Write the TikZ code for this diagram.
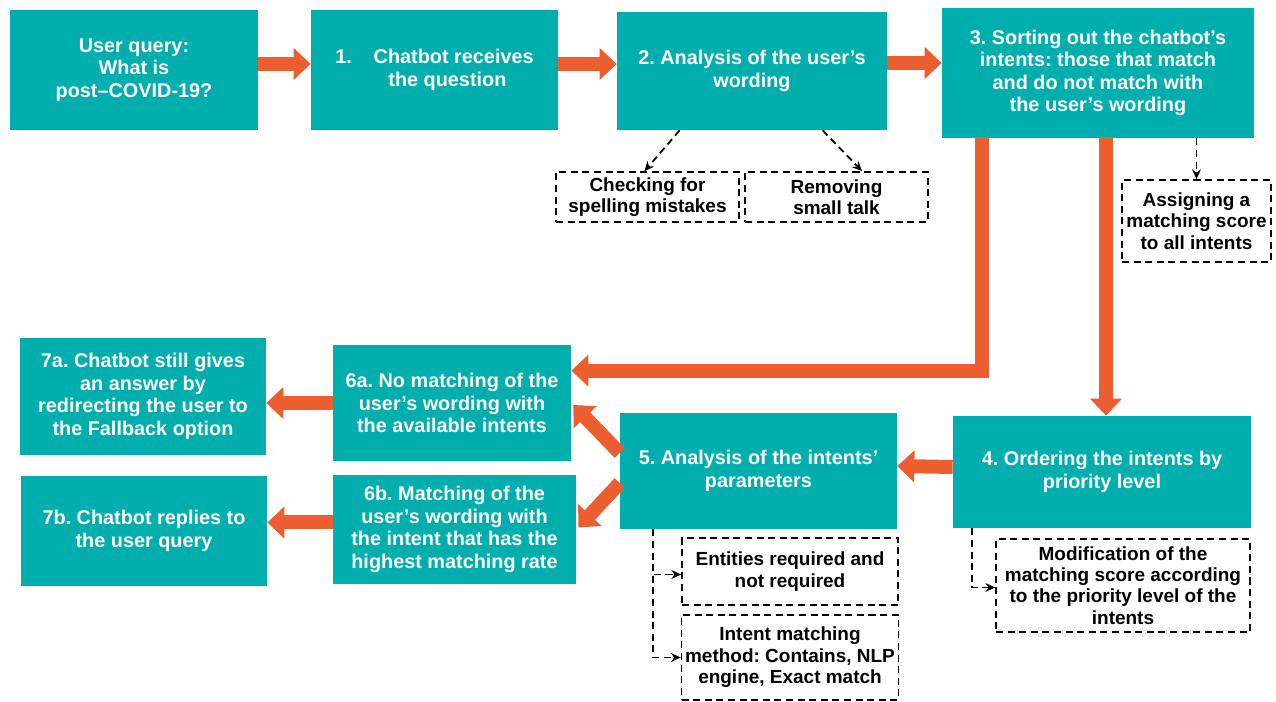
\documentclass[tikz,border=0pt]{standalone}
\usepackage{fontspec}
\setmainfont{Liberation Sans}
\usetikzlibrary{arrows.meta,calc}
\definecolor{teal1}{RGB}{0,175,173}
\definecolor{orng}{RGB}{236,93,47}
\frenchspacing
\tikzset{
  sz/.style 2 args={minimum width=#1*0.02cm, minimum height=#2*0.02cm},
  mainbox/.style={rectangle, fill=teal1, draw=none, text=white, align=center, inner sep=2pt,
    font=\fontsize{11.3}{12.8}\selectfont\bfseries\frenchspacing},
  dbox/.style={rectangle, draw=black, fill=white, line width=1pt, dash pattern=on 4pt off 2.6pt,
    text=black, align=center, inner sep=2pt, font=\fontsize{10.8}{12.2}\selectfont\bfseries\frenchspacing},
  oarrow/.style={draw=orng, line width=0.28cm, line join=miter,
    -{Triangle[length=0.34cm,width=0.62cm]}},
  darrow/.style={draw=black, line width=1pt, dash pattern=on 4pt off 2.6pt,
    -{Stealth[length=5.5pt,width=5pt]}},
}
\begin{document}
\begin{tikzpicture}[x=0.02cm,y=-0.02cm]
\useasboundingbox (0,0) rectangle (1276,702);
% main boxes
\node[mainbox,sz={248}{120}] (b0) at (134,70) {User query:\\What is\\post–COVID-19?};
\node[mainbox,sz={247}{120}] (b1) at (434.5,70) {1.\hspace{1.1em}Chatbot receives\\\hspace*{14.7pt}the question};
\node[mainbox,sz={270}{118}] (b2) at (752,71) {2. Analysis of the user’s\\wording};
\node[mainbox,sz={312}{130}] (b3) at (1098,73) {3. Sorting out the chatbot’s\\intents: those that match\\and do not match with\\the user’s wording};
\node[mainbox,sz={238}{116}] (n6a) at (452,403) {6a. No matching of the\\user’s wording with\\the available intents};
\node[mainbox,sz={246}{117}] (n7a) at (143,396.5) {7a. Chatbot still gives\\an answer by\\redirecting the user to\\the Fallback option};
\node[mainbox,sz={277}{116}] (n5) at (758.5,471) {5. Analysis of the intents’\\parameters};
\node[mainbox,sz={298}{112}] (n4) at (1102,472) {4. Ordering the intents by\\priority level};
\node[mainbox,sz={243}{109}] (n6b) at (454.5,529.5) {6b. Matching of the\\user’s wording with\\the intent that has the\\highest matching rate};
\node[mainbox,sz={246}{110}] (n7b) at (144,531) {7b. Chatbot replies to\\the user query};
% dashed boxes
\node[dbox,sz={183}{50}] (cs) at (647.5,197) {Checking for\\spelling mistakes};
\node[dbox,sz={183}{50}] (rs) at (836.5,197) {Removing\\small talk};
\node[dbox,sz={149}{82}] (as) at (1196.5,221) {Assigning a\\matching score\\to all intents};
\node[dbox,sz={216}{67}] (ent) at (790,571.5) {Entities required and\\not required};
\node[dbox,sz={216}{85}] (im) at (790,657.5) {Intent matching\\method: Contains, NLP\\engine, Exact match};
\node[dbox,sz={254}{93}] (mod) at (1123,585.5) {Modification of the\\matching score according\\to the priority level of the\\intents};
% orange arrows
\draw[oarrow] ($(b0.east)+(0,-6)$) -- ($(b1.west)+(0,-6)$);
\draw[oarrow] ($(b1.east)+(0,-6)$) -- ($(b2.west)+(0,-7)$);
\draw[oarrow] ($(b2.east)+(0,-8)$) -- ($(b3.west)+(0,-10)$);
\draw[oarrow] ($(b3.south west)+(40,-1)$) |- ($(n6a.north east)+(0,26)$);
\draw[oarrow] ($(n4.north |- b3.south)+(4,-1)$) -- ($(n4.north)+(4,0)$);
\draw[oarrow] ($(n4.west)+(0,-5)$) -- ($(n5.east)+(0,-5)$);
\draw[oarrow] ($(n5.west)+(0,-18)$) -- ($(n6a.east)+(2,2)$);
\draw[oarrow] ($(n5.west)+(0,12)$) -- ($(n6b.east)+(2,-2)$);
\draw[oarrow] (n6a.west) -- (n6a.west -| n7a.east);
\draw[oarrow] ($(n6b.west)+(0,-7)$) -- ($(n6b.west -| n7b.east)+(0,-7)$);
% dashed arrows
\draw[darrow] ($(b2.south west)+(63,0)$) -- ($(cs.north)+(-3,0)$);
\draw[darrow] ($(b2.south west)+(206,0)$) -- ($(rs.north)+(25.5,0)$);
\draw[darrow] (as.north |- b3.south) -- (as.north);
\coordinate (p5) at ($(n5.south west)+(33,0)$);
\draw[darrow] (p5) |- ($(ent.west)+(0,3)$);
\draw[darrow] (p5) |- (im.west);
\draw[darrow] ($(n4.south west)+(19,0)$) |- ($(mod.west)+(0,2)$);
\end{tikzpicture}
\end{document}
